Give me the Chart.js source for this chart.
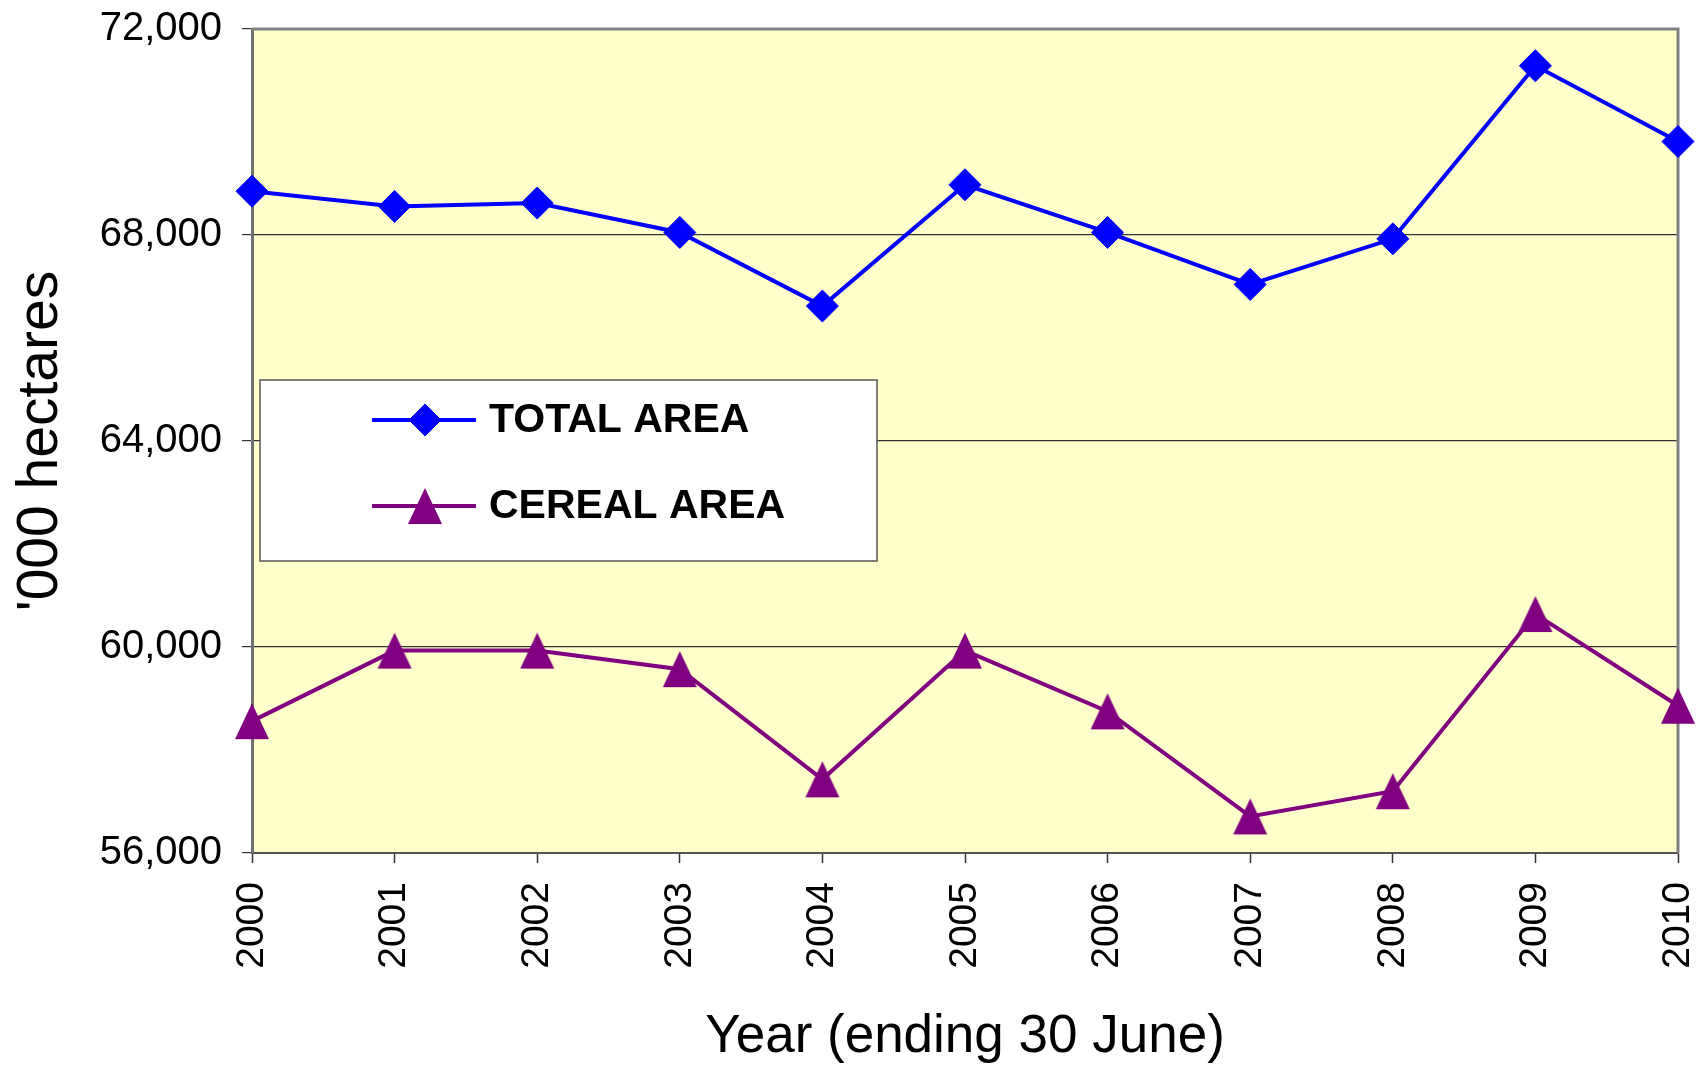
<!DOCTYPE html>
<html><head><meta charset="utf-8">
<script src="https://cdn.jsdelivr.net/npm/chart.js@4.4.0/dist/chart.umd.min.js"></script>
<style>html,body{margin:0;padding:0;background:#fff;}#wrap{width:1697px;height:1067px;position:relative;}</style>
</head><body><div id="wrap"><canvas id="c" width="1697" height="1067"></canvas></div>
<script>
const years = ['2000','2001','2002','2003','2004','2005','2006','2007','2008','2009','2010'];
const totalArea = [68850, 68555, 68620, 68050, 66620, 68975, 68050, 67040, 67925, 71285, 69815];
const cerealArea = [58560, 59930, 59930, 59570, 57430, 59930, 58750, 56710, 57200, 60640, 58860];
const yTickValues = [56000, 60000, 64000, 68000, 72000];
const seriesNames = ['TOTAL AREA', 'CEREAL AREA'];
const xTitle = 'Year (ending 30 June)';
const yTitle = "'000 hectares";

const FONT = "'Liberation Sans', Arial, Helvetica, sans-serif";
const BLUE = '#0000FF', PURPLE = '#800080';

function makeTriangle(w, h, color) {
  const c = document.createElement('canvas');
  c.width = w; c.height = h;
  const g = c.getContext('2d');
  g.fillStyle = color;
  g.beginPath();
  g.moveTo(w / 2, 1); g.lineTo(w - 1, h - 1); g.lineTo(1, h - 1); g.closePath();
  g.fill();
  return c;
}
const triImg = makeTriangle(36, 38, PURPLE);

const plotDeco = {
  id: 'plotDeco',
  beforeDraw(chart) {
    const {ctx, chartArea: a} = chart;
    ctx.save();
    ctx.fillStyle = '#FFFFCC';
    ctx.fillRect(a.left, a.top, a.right - a.left, a.bottom - a.top);
    ctx.restore();
  },
  beforeDatasetsDraw(chart) {
    const {ctx, chartArea: a} = chart;
    ctx.save();
    ctx.strokeStyle = '#808080';
    ctx.lineWidth = 3;
    ctx.beginPath();
    ctx.moveTo(a.left, a.top); ctx.lineTo(a.right, a.top); ctx.lineTo(a.right, a.bottom);
    ctx.stroke();
    ctx.restore();
  },
  afterDraw(chart) {
    const {ctx} = chart;
    const bx = 260, by = 380, bw = 617, bh = 181;
    ctx.save();
    ctx.fillStyle = '#FFFFFF';
    ctx.fillRect(bx, by, bw, bh);
    ctx.strokeStyle = '#555555';
    ctx.lineWidth = 1.5;
    ctx.strokeRect(bx, by, bw, bh);
    const rows = [420, 506];
    chart.data.datasets.forEach((ds, i) => {
      const y = rows[i];
      ctx.strokeStyle = ds.borderColor;
      ctx.lineWidth = ds.borderWidth;
      ctx.beginPath(); ctx.moveTo(372, y); ctx.lineTo(476, y); ctx.stroke();
      ctx.fillStyle = ds.pointBackgroundColor;
      ctx.strokeStyle = ds.pointBorderColor;
      ctx.lineWidth = ds.pointBorderWidth;
      Chart.helpers.drawPoint(ctx, {pointStyle: ds.pointStyle, radius: ds.pointRadius, rotation: 0, borderWidth: ds.pointBorderWidth}, 425, y);
      ctx.fillStyle = '#000';
      ctx.font = 'bold 41px ' + FONT;
      ctx.textBaseline = 'middle';
      ctx.textAlign = 'left';
      ctx.fillText(ds.label, 489, y + 1);
    });
    ctx.restore();
  }
};

new Chart(document.getElementById('c'), {
  type: 'line',
  data: {
    labels: years,
    datasets: [
      {label: seriesNames[0], data: totalArea, borderColor: BLUE, borderWidth: 4,
       pointStyle: 'rectRot', pointRadius: 16, pointBackgroundColor: BLUE, pointBorderColor: BLUE, pointBorderWidth: 1,
       tension: 0, fill: false},
      {label: seriesNames[1], data: cerealArea, borderColor: PURPLE, borderWidth: 4,
       pointStyle: triImg, pointRadius: 18, pointBackgroundColor: PURPLE, pointBorderColor: PURPLE, pointBorderWidth: 1,
       tension: 0, fill: false}
    ]
  },
  options: {
    responsive: false,
    animation: false,
    devicePixelRatio: 1,
    layout: {padding: {left: 0, right: 17, top: 29, bottom: 0}},
    plugins: {legend: {display: false}, tooltip: {enabled: false}},
    scales: {
      x: {
        type: 'category',
        offset: false,
        grid: {drawOnChartArea: false, drawTicks: true, tickLength: 10, tickColor: '#333', tickWidth: 1.5},
        border: {display: true, color: '#555', width: 2},
        ticks: {color: '#000', font: {family: FONT, size: 39}, minRotation: 90, maxRotation: 90, padding: 19, autoSkip: false},
        title: {display: true, text: xTitle, color: '#000', font: {family: FONT, size: 53, lineHeight: 1.1}, padding: 0},
        afterFit(s) { s.height = 214; s.paddingLeft = 0; s.paddingRight = 0; }
      },
      y: {
        min: 56000, max: 72000,
        afterBuildTicks(s) { s.ticks = yTickValues.map(v => ({value: v})); },
        grid: {color: '#333', lineWidth: 1.2, drawTicks: true, tickLength: 10, tickColor: '#333'},
        border: {display: true, color: '#707070', width: 3},
        ticks: {color: '#000', font: {family: FONT, size: 40}, padding: 20,
                callback: v => Number(v).toLocaleString('en-US')},
        title: {display: true, text: yTitle, color: '#000', font: {family: FONT, size: 57, lineHeight: 1.2}, padding: 7},
        afterFit(s) { s.width = 252; s.paddingTop = 0; s.paddingBottom = 0; }
      }
    }
  },
  plugins: [plotDeco]
});
</script>
</body></html>
